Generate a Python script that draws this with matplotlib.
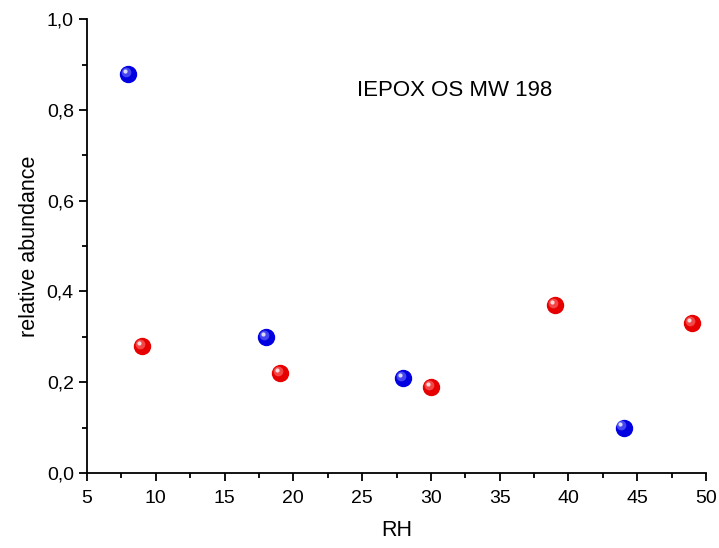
import matplotlib
matplotlib.use("Agg")
import matplotlib.pyplot as plt
import matplotlib.transforms as mtransforms
from matplotlib.ticker import MultipleLocator, FuncFormatter

plt.rcParams['font.family'] = ['Liberation Sans', 'DejaVu Sans']

# data
rh_blue = [8, 18, 28, 44]
abund_blue = [0.88, 0.30, 0.21, 0.10]
rh_red = [9, 19, 30, 39, 49]
abund_red = [0.28, 0.22, 0.19, 0.37, 0.33]

fig = plt.figure(figsize=(7.19, 5.48), dpi=100)
ax = fig.add_axes([0.121, 0.137, 0.861, 0.828])


def sphere(x, y, color, light):
    # main ball, then a small offset highlight to fake the 3D look
    ax.plot(x, y, 'o', ms=11.5, color=color, mec=color, zorder=3)
    ax.plot(x, y, 'o', ms=7, color=light, mec='none', alpha=0.55, zorder=4,
            transform=ax.transData + mtransforms.ScaledTranslation(-1.5/72, 1.5/72, fig.dpi_scale_trans))
    ax.plot(x, y, 'o', ms=3, color='white', mec='none', alpha=0.8, zorder=5,
            transform=ax.transData + mtransforms.ScaledTranslation(-2.2/72, 2.2/72, fig.dpi_scale_trans))


sphere(rh_blue, abund_blue, '#0000e0', '#8080ff')
sphere(rh_red, abund_red, '#e60000', '#ff8080')

ax.set_xlim(5, 50)
ax.set_ylim(0, 1.0)
ax.xaxis.set_major_locator(MultipleLocator(5))
ax.xaxis.set_minor_locator(MultipleLocator(2.5))
ax.yaxis.set_major_locator(MultipleLocator(0.2))
ax.yaxis.set_minor_locator(MultipleLocator(0.1))
ax.yaxis.set_major_formatter(FuncFormatter(lambda v, p: f"{v:.1f}".replace('.', ',')))

ax.spines['top'].set_visible(False)
ax.spines['right'].set_visible(False)
for s in ['left', 'bottom']:
    ax.spines[s].set_linewidth(1.3)
ax.tick_params(which='major', direction='out', length=6, width=1.3, labelsize=14)
ax.tick_params(axis='x', which='major', pad=6)
ax.tick_params(which='minor', direction='out', length=3.5, width=1.3)

ax.set_xlabel("RH", fontsize=15.5, labelpad=10)
ax.set_ylabel("relative abundance", fontsize=15.5, labelpad=5)
ax.text(0.594, 0.843, "IEPOX OS MW 198", transform=ax.transAxes,
        fontsize=16, ha='center', va='center')

fig.savefig("out.png", dpi=100)
